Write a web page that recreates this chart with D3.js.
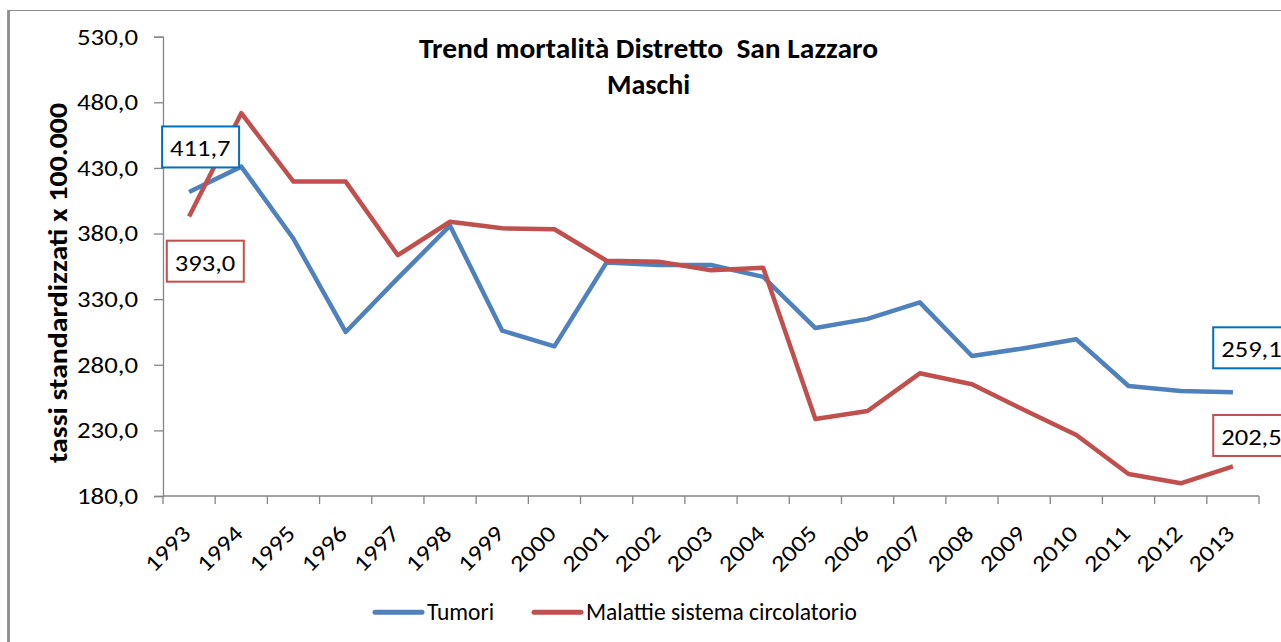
<!DOCTYPE html>
<html lang="it">
  <head>
    <meta charset="UTF-8">
    <title>Trend mortalità Distretto San Lazzaro</title>
    <style>
      body { margin: 0; background: #fff; }
      text { font-family: Calibri, Carlito, Lato, sans-serif; fill: #000; font-variant-numeric: tabular-nums; }
    </style>
  </head>
  <body>
    <svg id="grafico" width="1281" height="642"></svg>

    <script src="https://d3js.org/d3.v7.min.js"></script>

    <script>

      // anni (categorie asse x)
      var anni = ["1993", "1994", "1995", "1996", "1997", "1998", "1999", "2000", "2001", "2002", "2003",
                  "2004", "2005", "2006", "2007", "2008", "2009", "2010", "2011", "2012", "2013"];

      // tassi standardizzati x 100.000
      var tumori = [411.7, 431.0, 376.0, 305.0, 346.0, 386.0, 306.0, 294.0, 358.0, 356.0, 356.0,
                    347.0, 308.0, 315.0, 327.6, 286.7, 292.6, 299.4, 263.8, 260.0, 259.1];
      var circolatorio = [393.0, 471.7, 419.6, 419.6, 363.5, 389.0, 384.0, 383.3, 359.3, 358.6, 352.0,
                          354.0, 238.7, 244.8, 273.5, 265.1, 245.5, 226.5, 196.8, 189.7, 202.5];

      // tick asse y
      var tickY = [180, 230, 280, 330, 380, 430, 480, 530];

      var serie = [
        {nome: "Tumori", valori: tumori, colore: "#4F81BD", bordo: "#0070C0"},
        {nome: "Malattie sistema circolatorio", valori: circolatorio, colore: "#C0504D", bordo: "#C0504D"}
      ];

      var svg = d3.select("#grafico");
      var virgola = function(v) { return d3.format(".1f")(v).replace(".", ","); };

      // bordo esterno del grafico
      svg.append("line").attr("x1", 8).attr("x2", 1281).attr("y1", 10.5).attr("y2", 10.5)
        .attr("stroke", "#8c8c8c").attr("stroke-width", 1.2);
      svg.append("line").attr("x1", 8.5).attr("x2", 8.5).attr("y1", 10).attr("y2", 642)
        .attr("stroke", "#8c8c8c").attr("stroke-width", 2.8);

      var x = d3.scaleBand().domain(anni).range([163, 1259]);
      var y = d3.scaleLinear().domain([180, 530]).range([496, 36.7]);

      // asse y
      var assey = svg.append("g").attr("transform", "translate(163,0)")
        .call(d3.axisLeft(y).tickValues(tickY).tickFormat(virgola).tickSize(9).tickPadding(16));
      assey.selectAll("line, path").attr("stroke", "#868686").attr("stroke-width", 1.3);
      assey.selectAll("text").style("font-size", "23px").attr("font-family", null)
        .attr("textLength", 61).attr("lengthAdjust", "spacingAndGlyphs");

      // asse x con tacche tra le categorie
      var assex = svg.append("g");
      assex.append("line").attr("x1", 163).attr("x2", 1259).attr("y1", 496).attr("y2", 496)
        .attr("stroke", "#868686").attr("stroke-width", 1.3);
      var confini = anni.map(function(a) { return x(a); }).concat([x.range()[1]]);
      assex.selectAll(".tacca").data(confini).enter().append("line")
        .attr("x1", function(d) { return d; }).attr("x2", function(d) { return d; })
        .attr("y1", 496).attr("y2", 504)
        .attr("stroke", "#868686").attr("stroke-width", 1.3);
      assex.selectAll(".anno").data(anni).enter().append("text")
        .attr("text-anchor", "end")
        .attr("transform", function(d) {
          return "translate(" + (x(d) + x.bandwidth() / 2 + 3) + ",535) rotate(-45)";
        })
        .attr("textLength", 54).attr("lengthAdjust", "spacingAndGlyphs")
        .style("font-size", "23px")
        .text(function(d) { return d; });

      // linee
      var linea = d3.line()
        .x(function(d, i) { return x(anni[i]) + x.bandwidth() / 2; })
        .y(function(d) { return y(d); });

      svg.selectAll(".serie").data(serie).enter().append("path")
        .attr("d", function(s) { return linea(s.valori); })
        .attr("fill", "none")
        .attr("stroke", function(s) { return s.colore; })
        .attr("stroke-width", 4.5)
        .attr("stroke-linejoin", "round");

      // etichette dati (primo e ultimo anno)
      var etichette = [
        {s: 0, i: 0, dx: -27, dy: -65.5},
        {s: 1, i: 0, dx: -22.3, dy: 24.2},
        {s: 0, i: 20, dx: -19.7, dy: -64.9},
        {s: 1, i: 20, dx: -19.7, dy: -51.5}
      ];
      var gEt = svg.selectAll(".etichetta").data(etichette).enter().append("g")
        .attr("transform", function(d) {
          var cx = x(anni[d.i]) + x.bandwidth() / 2 + d.dx;
          var cy = y(serie[d.s].valori[d.i]) + d.dy;
          return "translate(" + cx + "," + cy + ")";
        });
      gEt.append("rect").attr("width", 77).attr("height", 41)
        .attr("fill", "#fff")
        .attr("stroke", function(d) { return serie[d.s].bordo; })
        .attr("stroke-width", 2);
      gEt.append("text").attr("x", 8).attr("y", 30)
        .attr("textLength", 60.5).attr("lengthAdjust", "spacingAndGlyphs")
        .style("font-size", "23px")
        .text(function(d) { return virgola(serie[d.s].valori[d.i]); });

      // titolo
      svg.append("text").attr("x", 648.5).attr("y", 58).attr("text-anchor", "middle")
        .attr("xml:space", "preserve")
        .attr("textLength", 459).attr("lengthAdjust", "spacingAndGlyphs")
        .style("font-size", "28px").style("font-weight", "bold")
        .text("Trend mortalità Distretto  San Lazzaro");
      svg.append("text").attr("x", 648.5).attr("y", 94).attr("text-anchor", "middle")
        .style("font-size", "28px").style("font-weight", "bold")
        .text("Maschi");

      // titolo asse y
      svg.append("text").attr("transform", "translate(67,283) rotate(-90)")
        .attr("text-anchor", "middle")
        .attr("textLength", 360).attr("lengthAdjust", "spacingAndGlyphs")
        .style("font-size", "27px").style("font-weight", "bold")
        .text("tassi standardizzati x 100.000");

      // legenda
      var leg = svg.selectAll(".legenda").data(serie).enter().append("g")
        .attr("transform", function(s, i) { return "translate(" + [375, 534][i] + ",0)"; });
      leg.append("line").attr("x1", 0).attr("x2", 47).attr("y1", 612.3).attr("y2", 612.3)
        .attr("stroke", function(s) { return s.colore; })
        .attr("stroke-width", 5).attr("stroke-linecap", "round");
      leg.append("text").attr("x", 52).attr("y", 619.5)
        .style("font-size", "23.5px")
        .text(function(s) { return s.nome; });

    </script>
  </body>
</html>
